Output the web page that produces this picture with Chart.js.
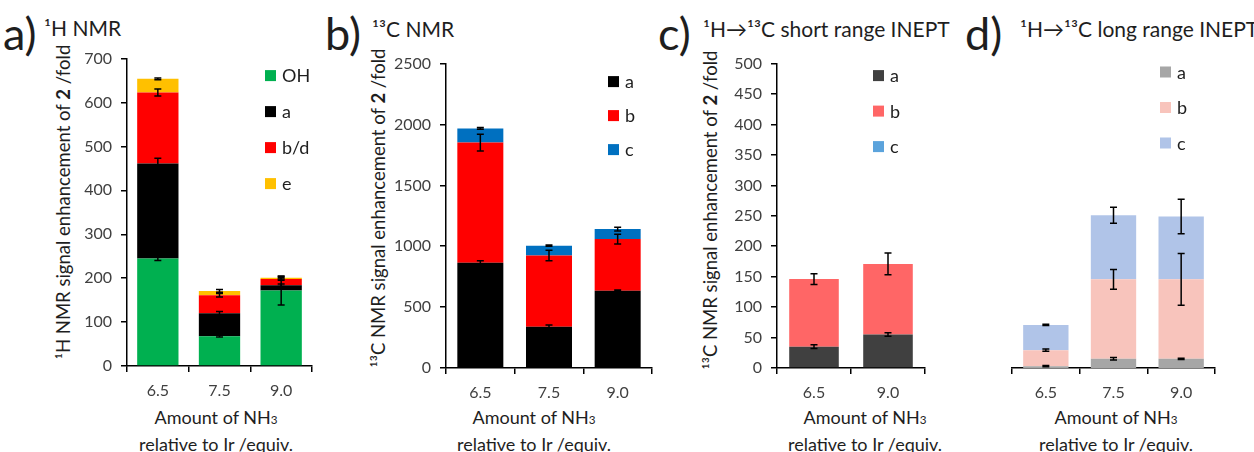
<!DOCTYPE html>
<html>
<head>
<meta charset="utf-8">
<script src="https://cdn.jsdelivr.net/npm/chart.js@4/dist/chart.umd.min.js"></script>
<style>
  body { margin: 0; background: #fff; width: 1254px; height: 452px; overflow: hidden; position: relative;
         font-family: Lato, "Open Sans", sans-serif; color: #1e1e1e; }
  canvas { position: absolute; }
  .lbl { position: absolute; font-size: 45px; line-height: 1; }
  .ttl { position: absolute; font-size: 21px; line-height: 1; white-space: nowrap; }
  .ytl { position: absolute; font-size: 18.5px; white-space: nowrap; transform: translate(-50%, -50%) rotate(-90deg); }
  .xtl { position: absolute; font-size: 18px; line-height: 25px; white-space: nowrap; text-align: center; transform: translateX(-50%); }
  .s3 { font-size: 65%; }
</style>
</head>
<body>

<div class="lbl" style="left:3px;top:11px">a)</div>
<div class="ttl" style="left:44px;top:17px">¹H NMR</div>
<div class="lbl" style="left:325px;top:11px">b)</div>
<div class="ttl" style="left:372px;top:18px">¹³C NMR</div>
<div class="lbl" style="left:658px;top:11px">c)</div>
<div class="ttl" style="left:703px;top:18px">¹H→¹³C short range INEPT</div>
<div class="lbl" style="left:965px;top:11px">d)</div>
<div class="ttl" style="left:1020px;top:18px">¹H→¹³C long range INEPT</div>

<div class="ytl" style="left:63px;top:202px">¹H NMR signal enhancement of <b>2</b> /fold</div>
<div class="ytl" style="left:378px;top:208px">¹³C NMR signal enhancement of <b>2</b> /fold</div>
<div class="ytl" style="left:710px;top:210px">¹³C NMR signal enhancement of <b>2</b> /fold</div>

<div class="xtl" style="left:216px;top:405px">Amount of NH<span class="s3">3</span><br>relative to Ir /equiv.</div>
<div class="xtl" style="left:534px;top:405px">Amount of NH<span class="s3">3</span><br>relative to Ir /equiv.</div>
<div class="xtl" style="left:865px;top:405px">Amount of NH<span class="s3">3</span><br>relative to Ir /equiv.</div>
<div class="xtl" style="left:1116px;top:405px">Amount of NH<span class="s3">3</span><br>relative to Ir /equiv.</div>

<canvas id="chartA" width="260" height="370" style="left:70px;top:40px"></canvas>
<canvas id="chartB" width="280" height="367" style="left:390px;top:45px"></canvas>
<canvas id="chartC" width="225" height="367" style="left:720px;top:45px"></canvas>
<canvas id="chartD" width="240" height="367" style="left:1000px;top:45px"></canvas>

<script>
// a) 1H NMR
const catsA = ['6.5', '7.5', '9.0'];
const hOH = [245, 68, 172];
const hA = [216, 52, 12];
const hBD = [162, 41, 14];
const hE = [31, 10, 3];
const errOH = [5, 2, 33];
const errHA = [12, 4, 3];
const errBD = [8, 4, 3];
const errE = [2, 3, 3];

// b) 13C NMR
const catsB = ['6.5', '7.5', '9.0'];
const cA = [865, 338, 635];
const cB = [986, 586, 424];
const cC = [117, 81, 82];
const errCA = [15, 15, 5];
const errCB = [68, 44, 40];
const errCC = [8, 5, 15];

// c) short range INEPT
const catsC = ['6.5', '9.0'];
const sA = [35, 55];
const sB = [111, 116];
const sC = [0, 0];
const errSA = [3, 3];
const errSB = [9, 18];

// d) long range INEPT
const catsD = ['6.5', '7.5', '9.0'];
const lA = [3, 15, 15];
const lB = [26, 129, 129];
const lC = [41, 104, 102];
const errLA = [1, 2, 1];
const errLB = [2, 16, 42];
const errLC = [1, 13, 28];

const FONT = 'Lato, "Open Sans", sans-serif';

// error bars at the top of each stacked segment
const errorBars = {
    id: 'errorBars',
    afterDatasetsDraw(chart, args, o) {
        const ctx = chart.ctx, ys = chart.scales.y, sets = chart.data.datasets;
        ctx.save();
        ctx.strokeStyle = '#000';
        ctx.lineWidth = 1.5;
        sets.forEach((ds, i) => {
            const meta = chart.getDatasetMeta(i);
            ds.data.forEach((v, j) => {
                const e = o.errs[i] && o.errs[i][j];
                if (!e) return;
                let top = 0;
                for (let k = 0; k <= i; k++) top += sets[k].data[j];
                const x = meta.data[j].x;
                const y1 = ys.getPixelForValue(top - e), y2 = ys.getPixelForValue(top + e);
                ctx.beginPath();
                ctx.moveTo(x, y1); ctx.lineTo(x, y2);
                ctx.moveTo(x - 3.5, y1); ctx.lineTo(x + 3.5, y1);
                ctx.moveTo(x - 3.5, y2); ctx.lineTo(x + 3.5, y2);
                ctx.stroke();
            });
        });
        ctx.restore();
    }
};

// Excel-like legend inside the plot area
const boxLegend = {
    id: 'boxLegend',
    afterDraw(chart, args, o) {
        const ctx = chart.ctx, a = chart.chartArea;
        ctx.save();
        ctx.font = '18px ' + FONT;
        ctx.textBaseline = 'middle';
        chart.data.datasets.forEach((ds, i) => {
            const x = a.left + o.x, y = a.top + o.y + i * o.gap;
            ctx.fillStyle = ds.backgroundColor;
            ctx.fillRect(x, y - 5.5, 11, 11);
            ctx.fillStyle = '#1e1e1e';
            ctx.fillText(ds.label, x + 17, y + 1);
        });
        ctx.restore();
    }
};

function makeChart(id, cats, sets, errs, cfg) {
    return new Chart(document.getElementById(id), {
        type: 'bar',
        data: {
            labels: cats,
            datasets: sets.map(s => ({
                label: s[0], data: s[1], backgroundColor: s[2],
                borderWidth: 0, barPercentage: 0.67, categoryPercentage: 1
            }))
        },
        options: {
            responsive: false,
            animation: false,
            layout: { padding: { top: cfg.top, right: cfg.right, left: 0, bottom: 0 } },
            plugins: {
                legend: { display: false },
                tooltip: { enabled: false },
                errorBars: { errs: errs },
                boxLegend: cfg.legend
            },
            scales: {
                x: {
                    stacked: true,
                    border: { color: '#000', width: 1.5 },
                    grid: { drawOnChartArea: false, drawTicks: true, tickLength: 6, color: '#000', offset: true, lineWidth: 1.5 },
                    ticks: { color: '#404040', font: { family: FONT, size: 16 }, padding: 9 },
                    afterFit: s => { s.height = 44; }
                },
                y: {
                    stacked: true,
                    min: 0, max: cfg.max,
                    display: true,
                    border: { display: cfg.yAxis, color: '#000', width: 1.5 },
                    grid: { display: cfg.yAxis, drawOnChartArea: false, tickLength: 6, color: '#000', lineWidth: 1.5 },
                    ticks: { display: cfg.yAxis, stepSize: cfg.step, color: '#404040', font: { family: FONT, size: 16 }, padding: 9,
                             callback: v => String(v) },
                    afterFit: s => { s.width = cfg.yw; }
                }
            }
        },
        plugins: [errorBars, boxLegend]
    });
}

makeChart('chartA', catsA,
    [['OH', hOH, '#00b050'], ['a', hA, '#000000'], ['b/d', hBD, '#ff0000'], ['e', hE, '#ffc000']],
    [errOH, errHA, errBD, errE],
    { top: 15, right: 18, yw: 57, max: 700, step: 100, yAxis: true, legend: { x: 138, y: 17, gap: 36 } });

makeChart('chartB', catsB,
    [['a', cA, '#000000'], ['b', cB, '#ff0000'], ['c', cC, '#0070c0']],
    [errCA, errCB, errCC],
    { top: 15, right: 18, yw: 56, max: 2500, step: 500, yAxis: true, legend: { x: 162, y: 18, gap: 34 } });

makeChart('chartC', catsC,
    [['a', sA, '#404040'], ['b', sB, '#ff6666'], ['c', sC, '#5ba3dc']],
    [errSA, errSB, []],
    { top: 15, right: 20, yw: 57, max: 500, step: 50, yAxis: true, legend: { x: 96, y: 12, gap: 35.5 } });

makeChart('chartD', catsD,
    [['a', lA, '#a6a6a6'], ['b', lB, '#f8c4bc'], ['c', lC, '#b0c4e8']],
    [errLA, errLB, errLC],
    { top: 15, right: 25, yw: 12, max: 500, step: 50, yAxis: false, legend: { x: 148, y: 12, gap: 35.5 } });
</script>
</body>
</html>
